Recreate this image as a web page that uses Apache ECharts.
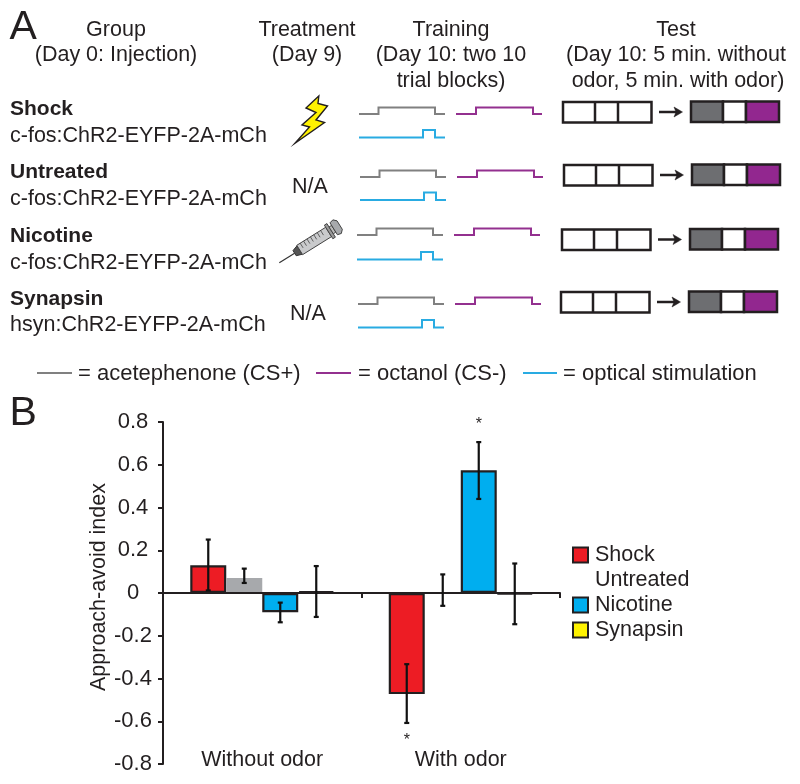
<!DOCTYPE html>
<html><head><meta charset="utf-8">
<style>html,body{margin:0;padding:0;background:#fff}#c{width:800px;height:784px}</style>
<script src="https://cdn.jsdelivr.net/npm/echarts@6/dist/echarts.min.js"></script>
</head><body><div id="c"></div>
<script>
const categories = ['Without odor', 'With odor'];
const seriesNames = ['Shock', 'Untreated', 'Nicotine', 'Synapsin'];
const shock = [0.13, -0.473];
const untreated = [0.07, 0.005];
const nicotine = [-0.09, 0.574];
const synapsin = [0.008, -0.005];
const shockErr = [[0.012, 0.25], [-0.608, -0.333]];
const untreatedErr = [[0.047, 0.114], [-0.06, 0.087]];
const nicotineErr = [[-0.137, -0.045], [0.44, 0.706]];
const synapsinErr = [[-0.112, 0.126], [-0.146, 0.138]];
const stars = [[1, 2, 0.79], [1, 0, -0.69]];
const seriesColors = ['#ed1c24', '#a7a9ac', '#00aeef', '#fff200'];

const FONT = '"Liberation Sans", Arial, sans-serif';
const INK = '#231f20';
const groupRows = [
  ['Shock', 'c-fos:ChR2-EYFP-2A-mCh', 115, 142],
  ['Untreated', 'c-fos:ChR2-EYFP-2A-mCh', 178, 205],
  ['Nicotine', 'c-fos:ChR2-EYFP-2A-mCh', 242, 269],
  ['Synapsin', 'hsyn:ChR2-EYFP-2A-mCh', 305, 331]
];
const headers = [
  ['Group', 116, 36], ['(Day 0: Injection)', 116, 61],
  ['Treatment', 307, 36], ['(Day 9)', 307, 61],
  ['Training', 451, 36], ['(Day 10: two 10', 451, 61], ['trial blocks)', 451, 87],
  ['Test', 676, 36], ['(Day 10: 5 min. without', 676, 61], ['odor, 5 min. with odor)', 678, 87]
];
const naLabels = [['N/A', 310, 193], ['N/A', 308, 320]];
// per row: dx, dy of traces; dx, dy of test boxes; dy of blue trace
const rowShift = [[0, 0, 0, 0, 0], [1, 63, 1, 63, 62.5], [-2, 121, -1, 127.5, 122], [-1, 190, -2, 190, 190]];
const legendA = [
  ['#808080', 37, 72, '= acetephenone (CS+)', 78],
  ['#93308f', 316, 351, '= octanol (CS-)', 358],
  ['#29abe2', 523, 557, '= optical stimulation', 563]
];

function txt(t, x, base, size, align, weight) {
  return {type: 'text', silent: true, style: {text: t, x: x, y: base - size * 0.27, fill: INK,
    font: (weight || 'normal') + ' ' + size + 'px ' + FONT, textAlign: align || 'left', textVerticalAlign: 'middle'}};
}
function line(pts, color, w) {
  return {type: 'polyline', silent: true, shape: {points: pts}, style: {stroke: color, lineWidth: w || 2, fill: null}};
}
function rect(x0, y0, x1, y1, fill, stroke, w) {
  return {type: 'rect', silent: true, shape: {x: x0, y: y0, width: x1 - x0, height: y1 - y0},
    style: {fill: fill, stroke: stroke || null, lineWidth: w || 0}};
}
function poly(pts, fill, stroke, w) {
  return {type: 'polygon', silent: true, shape: {points: pts}, style: {fill: fill, stroke: stroke, lineWidth: w || 1}};
}

const g = [];
g.push(txt('A', 9.5, 39, 41));
g.push(txt('B', 9.5, 425, 41));
headers.forEach(h => g.push(txt(h[0], h[1], h[2], 21.5, 'center')));
groupRows.forEach(r => {
  g.push(txt(r[0], 10, r[2], 21, 'left', 'bold'));
  g.push(txt(r[1], 10, r[3], 21.5));
});
naLabels.forEach(n => g.push(txt(n[0], n[1], n[2], 21.5, 'center')));

rowShift.forEach(s => {
  const dx = s[0], dy = s[1], bx = s[2], by = s[3], ldy = s[4];
  g.push(line([[359 + dx, 114 + dy], [378.5 + dx, 114 + dy], [378.5 + dx, 107.5 + dy], [435 + dx, 107.5 + dy], [435 + dx, 114 + dy], [445 + dx, 114 + dy]], '#808080'));
  g.push(line([[456 + dx, 114 + dy], [476 + dx, 114 + dy], [476 + dx, 107.5 + dy], [533 + dx, 107.5 + dy], [533 + dx, 114 + dy], [542 + dx, 114 + dy]], '#93308f'));
  g.push(line([[359 + dx, 137.5 + ldy], [423 + dx, 137.5 + ldy], [423 + dx, 130 + ldy], [435 + dx, 130 + ldy], [435 + dx, 137.5 + ldy], [445 + dx, 137.5 + ldy]], '#29abe2'));
  // test boxes
  g.push(rect(563 + bx, 102 + by, 651.5 + bx, 122.5 + by, '#fff', INK, 2.5));
  g.push(line([[595 + bx, 102 + by], [595 + bx, 122.5 + by]], INK, 2.5));
  g.push(line([[618 + bx, 102 + by], [618 + bx, 122.5 + by]], INK, 2.5));
  g.push(line([[659 + bx, 112 + by], [680 + bx, 112 + by]], INK, 2.5));
  g.push(poly([[674 + bx, 107 + by], [682.5 + bx, 112 + by], [674 + bx, 117 + by], [676 + bx, 112 + by]], INK, INK, 0.5));
  g.push(rect(691 + bx, 101.5 + by, 723 + bx, 122 + by, '#6d6e71', INK, 2.5));
  g.push(rect(723 + bx, 101.5 + by, 746 + bx, 122 + by, '#fff', INK, 2.5));
  g.push(rect(746 + bx, 101.5 + by, 779 + bx, 122 + by, '#92278f', INK, 2.5));
});

legendA.forEach(l => {
  g.push(line([[l[1], 373], [l[2], 373]], l[0]));
  g.push(txt(l[3], l[4], 379.5, 22));
});

// lightning bolt
g.push(poly([[318.8,96],[306,108],[316,112.5],[302,125],[309.5,127],[295,143.3],[324.5,122.5],[316,120],[327.5,106],[318,103.5]], '#fff200', INK, 1.4));

// syringe: local (u along the needle, v across) mapped to page
function sy(u, v) {
  const c = 0.85, s = -0.53;
  return [279.3 + u * c - v * s, 262.7 + u * s + v * c];
}
g.push(line([sy(0, 0), sy(18, 0)], '#333', 1.2));
g.push(poly([sy(18, -3), sy(24, -5), sy(24, 5), sy(18, 3)], '#555', '#333', 1));
g.push(poly([sy(24, -5.5), sy(58, -5.5), sy(58, 5.5), sy(24, 5.5)], '#c9cacc', '#444', 1));
[28, 32, 36, 40, 44, 48, 52].forEach(u => g.push(line([sy(u, -5.5), sy(u, 0)], '#444', 0.8)));
g.push(poly([sy(58, -8), sy(61, -8), sy(61, 8), sy(58, 8)], '#999', '#444', 1));
g.push(poly([sy(61, -4), sy(64, -4), sy(64, 4), sy(61, 4)], '#bbb', '#444', 1));
g.push(poly([sy(64, -7), sy(68, -8), sy(71, -5), sy(71, 5), sy(68, 8), sy(64, 7)], '#a7a9ac', '#444', 1));

const values = [shock, untreated, nicotine, synapsin];
const errs = [shockErr, untreatedErr, nicotineErr, synapsinErr];
const errData = [];
errs.forEach((e, s) => e.forEach((r, c) => errData.push([c, s, r[0], r[1]])));
const BAR = 36;

const barSeries = seriesNames.map((n, i) => ({
  name: n, type: 'bar', data: values[i], barWidth: BAR, barGap: 0, silent: true,
  itemStyle: {color: seriesColors[i], borderColor: i === 1 ? seriesColors[i] : INK, borderWidth: i === 1 ? 0 : 2.2}
}));

const chart = echarts.init(document.getElementById('c'), null, {renderer: 'canvas'});
chart.setOption({
  animation: false,
  backgroundColor: '#fff',
  grid: {left: 163, right: 240, top: 422, bottom: 20, outerBoundsMode: 'none'},
  legend: {
    left: 567, top: 539, orient: 'vertical', selectedMode: false, itemWidth: 15, itemHeight: 15, itemGap: 3,
    textStyle: {fontFamily: FONT, fontSize: 21.5, color: INK, padding: [0, 0, 0, 2]},
    data: [
      {name: 'Shock', icon: 'rect', itemStyle: {borderColor: INK, borderWidth: 2}},
      {name: 'Untreated', icon: 'rect', itemStyle: {opacity: 0}},
      {name: 'Nicotine', icon: 'rect', itemStyle: {borderColor: INK, borderWidth: 2}},
      {name: 'Synapsin', icon: 'rect', itemStyle: {borderColor: INK, borderWidth: 2}}
    ]
  },
  xAxis: {
    type: 'category', data: categories, z: 5,
    axisLine: {onZero: true, lineStyle: {color: INK, width: 2}},
    axisTick: {show: true, length: 5, lineStyle: {color: INK, width: 2}},
    axisLabel: {margin: -15, color: INK, fontFamily: FONT, fontSize: 21.5}
  },
  yAxis: {
    type: 'value', min: -0.8, max: 0.8, interval: 0.2, z: 6,
    name: 'Approach-avoid index', nameLocation: 'middle', nameGap: 49,
    nameTextStyle: {fontFamily: FONT, fontSize: 21.5, color: INK, padding: [0, 0, 0, 12]},
    splitLine: {show: false},
    axisLine: {show: true, lineStyle: {color: INK, width: 2}},
    axisTick: {show: true, length: 5, lineStyle: {color: INK, width: 2}},
    axisLabel: {margin: 30, align: 'center', color: INK, fontFamily: FONT, fontSize: 22, padding: [0, 0, 9, 0],
      formatter: v => Math.abs(v) < 1e-9 ? '0' : v.toFixed(1)}
  },
  series: barSeries.concat([
    {
      type: 'custom', silent: true, z: 10, data: errData, encode: {x: 0, y: [2, 3]},
      renderItem: (params, api) => {
        const off = (api.value(1) - 1.5) * BAR;
        const a = api.coord([api.value(0), api.value(2)]);
        const b = api.coord([api.value(0), api.value(3)]);
        const x = a[0] + off;
        const st = {stroke: '#111', lineWidth: 2.2, fill: null};
        return {type: 'group', children: [
          {type: 'line', shape: {x1: x, y1: a[1], x2: x, y2: b[1]}, style: st},
          {type: 'line', shape: {x1: x - 2.5, y1: a[1], x2: x + 2.5, y2: a[1]}, style: st},
          {type: 'line', shape: {x1: x - 2.5, y1: b[1], x2: x + 2.5, y2: b[1]}, style: st}
        ]};
      }
    },
    {
      type: 'custom', silent: true, z: 10, data: stars, encode: {x: 0, y: 2},
      renderItem: (params, api) => {
        const p = api.coord([api.value(0), api.value(2)]);
        return {type: 'text', style: {text: '*', x: p[0] + (api.value(1) - 1.5) * BAR, y: p[1],
          font: '16px ' + FONT, fill: INK, textAlign: 'center', textVerticalAlign: 'middle'}};
      }
    }
  ]),
  graphic: {elements: g}
});
</script></body></html>
